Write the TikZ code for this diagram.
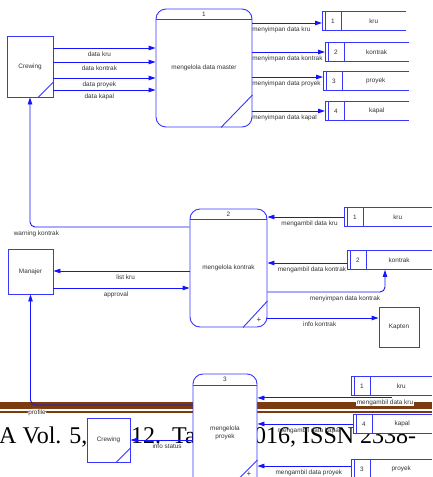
\documentclass[tikz,border=0pt]{standalone}
\usepackage{fontspec}
\setmainfont{Liberation Sans}
\newfontfamily\journalfont{Liberation Serif}
\usetikzlibrary{arrows.meta,calc,positioning}
\definecolor{Flow}{HTML}{1414FF}
\definecolor{Edge}{HTML}{3636FF}
\definecolor{Bar}{HTML}{7B3B0E}
\definecolor{Ink}{HTML}{333333}

\begin{document}
\begin{tikzpicture}[x=1pt,y=-1pt,
    dfdline/.style={Edge,line width=0.9pt},
    flow/.style={Flow,line width=0.9pt,-{Triangle[length=7pt,width=4.5pt]}},
    proc/.style={dfdline,draw,fill=white,text=Ink,rounded corners=10pt,minimum height=118pt,inner sep=1pt,align=center,font=\fontsize{6.4}{8}\selectfont},
    ext/.style={dfdline,draw,fill=white,text=Ink,inner sep=0pt,font=\fontsize{6.4}{8}\selectfont},
    storebox/.style={inner sep=0pt,minimum height=19.5pt,fill=white},
    txt/.style={text=Ink,font=\fontsize{6.4}{7.5}\selectfont,inner sep=1pt},
    lbl/.style={txt,inner sep=0.5pt},
    journal/.style={font=\journalfont\fontsize{24}{28}\selectfont,inner sep=0pt,anchor=base west}]
    \useasboundingbox (0,0) rectangle (432,477);
    \clip (0,0) rectangle (432,477);
    \fill[white] (0,0) rectangle (432,477);

    % page header behind the diagram
    \fill[Bar] (0,402) rectangle (432,409);
    \fill[Bar] (0,411) rectangle (432,413);
    \node[journal] (jrn-a) at (-1,443) {A Vol. 5,};
    \node[journal] (jrn-b) at (131,443) {12.};
    \node[journal] (jrn-c) at (172,443) {Ta};
    \node[journal] (jrn-d) at (254,443) {016, ISSN 2338-};

    % processes
    \node[proc,minimum width=96pt] (p1) at (204,68) {mengelola data master};
    \node[proc,minimum width=77pt] (p2) at (228.5,268) {mengelola kontrak};
    \node[proc,minimum width=64pt] (p3) at (225,433) {mengelola\\proyek};
    \draw[dfdline] (p1.west |- 0,19) -- (p1.east |- 0,19);
    \draw[dfdline] (p2.west |- 0,219) -- (p2.east |- 0,219);
    \draw[dfdline] (p3.west |- 0,385) -- (p3.east |- 0,385);
    \node[txt] (p1-no) at (p1.north |- 0,14) {1};
    \node[txt] (p2-no) at (p2.north |- 0,214) {2};
    \node[txt] (p3-no) at (p3.north |- 0,379.5) {3};
    \draw[dfdline] (p1.south -| 221,0) -- (p1.east |- 0,95);
    \draw[dfdline] (p2.south -| 243,0) -- (p2.east |- 0,301);
    \draw[dfdline] (p3.south -| 225,0) -- (p3.east |- 0,460);
    \node[txt,font=\fontsize{8}{9}\selectfont] (p2-plus) at (259,320) {+};
    \node[txt,font=\fontsize{8}{9}\selectfont] (p3-plus) at (249,474) {+};

    % external entities
    \node[ext,minimum width=46pt,minimum height=61pt] (crew1) at (30,66.5) {Crewing};
    \node[ext,minimum width=45pt,minimum height=45pt] (manajer) at (30.5,271.5) {Manajer};
    \node[ext,minimum width=40pt,minimum height=40pt] (kapten) at (399,327) {Kapten};
    \node[ext,minimum width=43pt,minimum height=44pt] (crew2) at (108.5,440) {Crewing};
    \draw[dfdline] (crew1.south -| 38,0) -- (crew1.east |- 0,82);
    \draw[dfdline] (crew2.south -| 116,0) -- (crew2.east |- 0,448);

    % data stores
    \foreach \n/\x/\y/\w/\k/\t in {s1a/322/11/84/1/kru,s2a/325/42/84/2/kontrak,s3a/323/71/86/3/proyek,s4a/325/101/84/4/kapal,
        s1b/344/207/88/1/kru,s2b/347/250/85/2/kontrak,s1c/351/376/81/1/kru,s4c/353/414/79/4/kapal,s3c/351/459/81/3/proyek}{
      \node[storebox,minimum width=\w pt,anchor=north west] (\n) at (\x,\y) {};
      \draw[dfdline] (\n.north east) -- (\n.north west) -- (\n.south west) -- (\n.south east);
      \draw[dfdline] ([xshift=3pt]\n.north west) -- ([xshift=3pt]\n.south west);
      \draw[dfdline] ([xshift=19pt]\n.north west) -- ([xshift=19pt]\n.south west);
      \node[txt] (\n-no) at ([xshift=11pt]\n.west) {\k};
      \node[txt] (\n-name) at ($([xshift=19pt]\n.west)!.5!(\n.east)$) {\t};
    }

    % flows of process 1
    \foreach \y/\t in {48/data kru,62/data kontrak,78/data proyek,90/data kapal}
      \draw[flow] (crew1.east |- 0,\y) -- node[lbl,pos=.45,below=3pt] (in-\y) {\t} (p1.west |- 0,\y);
    \foreach \s/\y/\t in {s1a/23/menyimpan data kru,s2a/52/menyimpan data kontrak,s3a/77/menyimpan data proyek,s4a/111/menyimpan data kapal}
      \draw[flow] (p1.east |- 0,\y) -- node[lbl,pos=0,anchor=north west,yshift=-3pt,xshift=-1pt] (out-\s) {\t} (\s.west |- 0,\y);

    % flows of process 2
    \draw[flow,rounded corners=5pt] (p2.west |- 0,227) -| node[lbl,pos=.48,below=3pt] (l-warning) {warning kontrak} (crew1.south);
    \draw[flow] (p2.west |- 0,271) -- node[lbl,pos=.47,below=3pt] (l-listkru) {list kru} (manajer.east |- 0,271);
    \draw[flow] (manajer.east |- 0,288) -- node[lbl,pos=.46,below=3pt] (l-approval) {approval} (p2.west |- 0,288);
    \draw[flow] (s1b.west |- 0,217) -- node[lbl,pos=.45,below=3pt] (l-ambilkru) {mengambil data kru} (p2.east |- 0,217);
    \draw[flow] (s2b.west |- 0,263) -- node[lbl,pos=.44,below=3pt] (l-ambilkontrak) {mengambil data kontrak} (p2.east |- 0,263);
    \draw[flow,rounded corners=5pt] (p2.east |- 0,292) -| node[lbl,pos=.33,below=3pt] (l-simpankontrak) {menyimpan data kontrak} (s2b.south -| 385,0);
    \draw[flow] (p2.east |- 0,318) -- node[lbl,pos=.47,below=3pt] (l-infokontrak) {info kontrak} (kapten.west |- 0,318);

    % flows of process 3
    \draw[flow,rounded corners=5pt] (p3.west |- 0,405) -| node[lbl,fill=white,pos=.48,below=3.5pt] (l-profile) {profile} (manajer.south);
    \draw[flow] (p3.west |- 0,440) -- node[lbl,pos=.41,below=3pt] (l-infostatus) {info status} (crew2.east |- 0,440);
    \draw[flow] ([yshift=-2pt]s1c.south) -- node[lbl,fill=white,pos=.05,below=1pt] (l-ambilkru3) {mengambil data kru} ([yshift=-2pt]s1c.south -| p3.east);
    \draw[flow] (s4c.west) -- node[lbl,pos=.46,below=3pt] (l-ambilkapal) {mengambil data kapal} (s4c.west -| p3.east);
    \draw[flow] (s3c.west |- 0,466) -- node[lbl,pos=.45,below=3pt] (l-ambilproyek) {mengambil data proyek} (p3.east |- 0,466);
  \end{tikzpicture}
\end{document}
